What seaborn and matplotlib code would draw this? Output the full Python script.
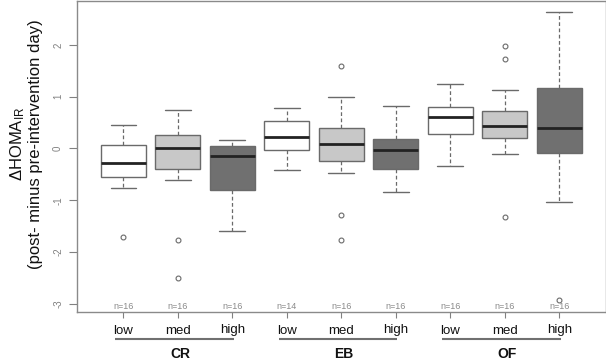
import numpy as np
import pandas as pd
import matplotlib
matplotlib.use("Agg")
import matplotlib.pyplot as plt
import seaborn as sns

# ---- data ----
groups = ["CR", "EB", "OF"]
levels = ["low", "med", "high"]
n_counts = [16, 16, 16, 14, 16, 16, 16, 16, 16]
whislo = [-0.77, -0.61, -1.59, -0.41, -0.48, -0.84, -0.34, -0.10, -1.03]
q1 = [-0.55, -0.39, -0.81, -0.03, -0.25, -0.39, 0.28, 0.21, -0.09]
med = [-0.29, 0.00, -0.155, 0.22, 0.077, -0.03, 0.61, 0.43, 0.39]
q3 = [0.064, 0.26, 0.045, 0.53, 0.39, 0.19, 0.80, 0.73, 1.17]
whishi = [0.45, 0.74, 0.17, 0.78, 1.00, 0.83, 1.24, 1.13, 2.63]
fliers = [[-1.71], [-1.76, -2.51], [], [], [1.59, -1.29, -1.76], [],
          [], [1.99, 1.73, -1.32], [-2.93]]
yticks = [-3, -2, -1, 0, 1, 2]

level_colors = {"low": "#ffffff", "med": "#c8c8c8", "high": "#707070"}

sns.set_theme(style="white")
plt.rcParams["font.family"] = ["Liberation Sans", "DejaVu Sans"]
plt.rcParams["mathtext.fontset"] = "custom"
plt.rcParams["mathtext.rm"] = "Liberation Sans"
plt.rcParams["mathtext.it"] = "Liberation Sans"

fig = plt.figure(figsize=(6.06, 3.62), dpi=100)
ax = fig.add_axes([77 / 606, 1 - 312 / 362, (605.5 - 77) / 606, 311 / 362])

stats = []
labels = []
colors = []
for gi, g in enumerate(groups):
    for li, lv in enumerate(levels):
        i = gi * 3 + li
        stats.append(dict(whislo=whislo[i], q1=q1[i], med=med[i], q3=q3[i],
                          whishi=whishi[i], fliers=fliers[i]))
        labels.append(lv)
        colors.append(level_colors[lv])

positions = np.arange(1, len(stats) + 1)
edge = "#6a6a6a"
bp = ax.bxp(stats, positions=positions, widths=0.82, capwidths=0.47,
            patch_artist=True, showfliers=True,
            boxprops=dict(edgecolor=edge, linewidth=1.0),
            medianprops=dict(color="#222222", linewidth=2.0),
            whiskerprops=dict(color=edge, linewidth=0.9, linestyle=(0, (3, 2))),
            capprops=dict(color=edge, linewidth=1.0),
            flierprops=dict(marker="o", markersize=3.5, markerfacecolor="none",
                            markeredgecolor=edge, markeredgewidth=0.8))
for patch, c in zip(bp["boxes"], colors):
    patch.set_facecolor(c)

ax.set_xlim(0.15, 9.85)
ax.set_ylim(-3.16, 2.85)
ax.set_yticks(yticks)
ax.set_yticklabels([str(t) for t in yticks], rotation=90, va="center",
                   fontsize=7, color="#808080")
ax.set_xticks(positions)
ax.set_xticklabels(labels, fontsize=9.5, color="#111111")
ax.tick_params(axis="y", which="both", left=True, length=6, width=0.8,
               color="#808080", pad=4)
ax.tick_params(axis="x", which="both", bottom=True, length=4, width=0.8,
               color="#808080", pad=5)
for s in ax.spines.values():
    s.set_color("#8a8a8a")
    s.set_linewidth(1.0)
ax.grid(False)

# n= labels
ymin = ax.get_ylim()[0]
for p, n in zip(positions, n_counts):
    ax.text(p, ymin + 0.01, f"n={n}", ha="center", va="bottom",
            fontsize=6.5, color="#8a8a8a")

# group underline and labels
trans = ax.get_xaxis_transform()
for gi, g in enumerate(groups):
    p0 = positions[gi * 3]
    p1 = positions[gi * 3 + 2]
    ax.plot([p0 - 0.15, p1 + 0.03], [-0.088, -0.088], transform=trans,
            color="#707070", linewidth=1.5, clip_on=False,
            solid_capstyle="butt")
    ax.text((p0 + p1) / 2 + 0.05, -0.136, g, transform=trans, ha="center",
            va="center", fontsize=10, fontweight="bold", color="#111111")

# y label (two lines)
fig.text(18 / 606, 1 - 144 / 362, r"ΔHOMA$_{\mathrm{IR}}$", rotation=90,
         ha="center", va="center", fontsize=12, color="#111111")
fig.text(36 / 606, 1 - 144 / 362, "(post- minus pre-intervention day)",
         rotation=90, ha="center", va="center", fontsize=12, color="#111111")

fig.savefig("out.png", dpi=100)
